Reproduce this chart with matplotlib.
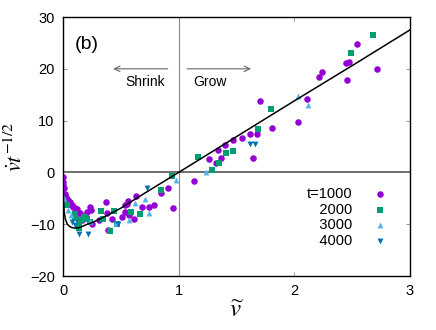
import matplotlib
matplotlib.use("Agg")
import matplotlib.pyplot as plt

plt.rcParams['font.family'] = ['Liberation Sans', 'DejaVu Sans']
plt.rcParams['mathtext.fontset'] = 'stix'

# theory curve
curve_v = [0.0, 0.003, 0.006, 0.01, 0.02, 0.035, 0.05, 0.07, 0.1, 0.13, 0.16, 0.2,
           0.25, 0.3, 0.4, 0.5, 0.7, 1.0, 1.5, 2.0, 2.5, 3.0]
curve_f = [0.0, -3.5, -6.0, -7.6, -9.0, -9.9, -10.3, -10.6, -10.75, -10.7, -10.5, -10.1,
           -9.7, -9.2, -8.1, -6.9, -4.1, 0.0, 6.9, 13.8, 20.6, 27.5]

# t = 1000
v1000 = [0.0, 0.0, 0.0, 0.005, 0.015, 0.03, 0.045, 0.06, 0.075, 0.09, 0.105, 0.12, 0.145,
         0.13, 0.16, 0.19, 0.21, 0.23, 0.245, 0.25, 0.31, 0.37, 0.38, 0.39, 0.42, 0.51,
         0.54, 0.54, 0.55, 0.56, 0.57, 0.61, 0.63, 0.68, 0.74, 0.79, 0.85, 0.91, 0.95,
         1.13, 1.26, 1.32, 1.34, 1.37, 1.40, 1.47, 1.55, 1.62, 1.64, 1.68, 1.70, 1.81,
         2.03, 2.11, 2.21, 2.24, 2.45, 2.47, 2.46, 2.54, 2.72]
f1000 = [-0.8, -1.8, -2.5, -3.1, -4.2, -4.8, -5.3, -5.7, -6.2, -6.6, -6.9, -7.1, -7.9,
         -8.9, -9.1, -8.5, -7.6, -6.7, -7.3, -10.0, -9.2, -5.8, -7.8, -11.1, -8.9, -8.6,
         -6.3, -7.6, -6.1, -5.5, -8.2, -8.9, -4.6, -6.7, -6.7, -6.3, -3.9, -3.1, -6.8,
         -1.7, 2.6, 1.9, 4.3, 2.8, 5.2, 6.2, 6.7, 7.5, 2.8, 7.4, 13.8, 8.6,
         9.7, 14.2, 18.5, 19.4, 21.2, 21.3, 17.8, 24.7, 19.9]

# t = 2000
v2000 = [0.037, 0.10, 0.106, 0.136, 0.14, 0.158, 0.18, 0.19, 0.21, 0.23, 0.33, 0.35,
         0.41, 0.44, 0.47, 0.59, 0.67, 0.85, 0.94, 1.17, 1.29, 1.35, 1.41, 1.47, 1.69,
         1.80, 2.49, 2.68]
f2000 = [-6.2, -8.0, -8.7, -10.8, -10.0, -9.2, -8.7, -8.6, -9.0, -9.6, -7.5, -8.9,
         -11.3, -7.5, -10.0, -7.6, -8.1, -3.4, -0.7, 2.9, 0.4, 1.8, 3.8, 4.1, 8.4,
         12.2, 23.0, 26.5]

# t = 3000
v3000 = [0.009, 0.046, 0.072, 0.23, 0.46, 0.57, 0.62, 0.71, 0.74, 0.98, 1.24, 2.03, 2.12]
f3000 = [-5.0, -7.3, -8.2, -9.3, -9.7, -9.1, -6.0, -5.1, -7.8, -1.5, 0.1, 14.8, 13.1]

# t = 4000
v4000 = [0.075, 0.106, 0.136, 0.216, 0.48, 0.73, 1.62, 1.66]
f4000 = [-9.5, -10.2, -11.8, -11.9, -10.0, -3.1, 5.5, 5.5]

# three plain spaces are about as wide as "t=", so the labels line up on the right
labels = ['t=1000', '   2000', '   3000', '   4000']

fig = plt.figure(figsize=(4.36, 3.30), dpi=100)
ax = fig.add_axes([0.1445, 0.1636, 0.7955, 0.7848])

ax.axhline(0, color='#555555', lw=1.2, zorder=1)
ax.axvline(1, color='#888888', lw=0.8, zorder=1)

ax.scatter(v1000, f1000, s=22, marker='o', color='#9400d3', lw=0, label=labels[0], zorder=3)
ax.scatter(v2000, f2000, s=22, marker='s', color='#009e73', lw=0, label=labels[1], zorder=3)
ax.scatter(v3000, f3000, s=18, marker='^', color='#56b4e9', lw=0, label=labels[2], zorder=3)
ax.scatter(v4000, f4000, s=18, marker='v', color='#0072b2', lw=0, label=labels[3], zorder=3)
ax.plot(curve_v, curve_f, color='black', lw=1.1, zorder=4)

# shrink / grow arrows
ax.annotate('', xy=(0.41, 20), xytext=(0.93, 20),
            arrowprops=dict(arrowstyle='->', color='#666666', lw=0.8))
ax.annotate('', xy=(1.65, 20), xytext=(1.05, 20),
            arrowprops=dict(arrowstyle='->', color='#666666', lw=0.8))
ax.text(0.71, 17.4, 'Shrink', ha='center', va='center', fontsize=10)
ax.text(1.13, 17.4, 'Grow', ha='left', va='center', fontsize=10)
ax.text(0.1, 24.6, '(b)', ha='left', va='center', fontsize=14)

ax.set_xlim(0, 3)
ax.set_ylim(-20, 30)
ax.set_xticks([0, 1, 2, 3])
ax.set_yticks([-20, -10, 0, 10, 20, 30])
ax.tick_params(direction='in', length=3, width=0.6, top=True, right=True,
               labelsize=10.5, pad=6, color='#888888')
for s in ax.spines.values():
    s.set_linewidth(1.0)

ax.set_xlabel(r'$\widetilde{v}$', fontsize=18, labelpad=0)
ax.set_ylabel(r'$\dot{v}t^{-1/2}$', fontsize=16, labelpad=2)

ax.legend(loc='center right', bbox_to_anchor=(0.955, 0.226), frameon=False,
          markerfirst=False, fontsize=10.5, handlelength=1.0, handletextpad=1.4,
          labelspacing=0.1, borderpad=0)

fig.savefig('out.png', dpi=100)
